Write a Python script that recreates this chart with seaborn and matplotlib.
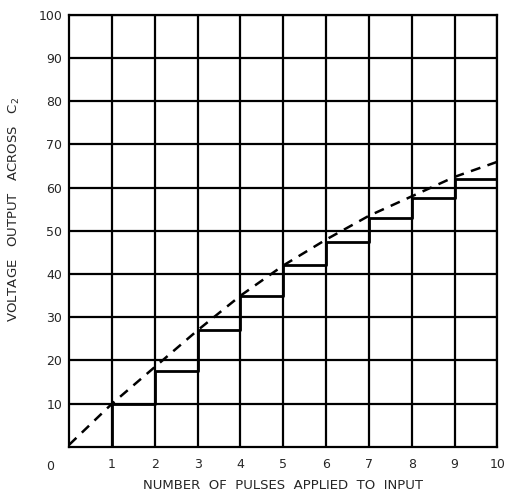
import numpy as np
import pandas as pd
import matplotlib
matplotlib.use('Agg')
import matplotlib.pyplot as plt
import seaborn as sns

# 계단 파형 (펄스마다 C2 전압 상승)
step_pulses = [1, 1, 2, 3, 4, 5, 6, 7, 8, 9, 10]
step_volts = [0, 10, 17.5, 27, 35, 42, 47.5, 53, 57.5, 62, 62]

# 점선 포락선
curve_pulses = [0, 1, 2, 3, 4, 5, 6, 7, 8, 9, 10]
curve_volts = [0.5, 10, 18.5, 27, 35, 42, 48, 53.5, 58, 62.5, 66]

x_ticks = [1, 2, 3, 4, 5, 6, 7, 8, 9, 10]
y_ticks = [10, 20, 30, 40, 50, 60, 70, 80, 90, 100]

sns.set_style('white')
plt.rcParams['font.family'] = ['DejaVu Sans']

fig = plt.figure(figsize=(5.05, 4.96), dpi=100)
ax = fig.add_axes([0.137, 0.099, 0.848, 0.871])

step_df = pd.DataFrame({'pulses': step_pulses, 'volts': step_volts})
curve_df = pd.DataFrame({'pulses': curve_pulses, 'volts': curve_volts})

sns.lineplot(data=step_df, x='pulses', y='volts', ax=ax, estimator=None, sort=False,
             drawstyle='steps-post', color='black', linewidth=2)
sns.lineplot(data=curve_df, x='pulses', y='volts', ax=ax, estimator=None,
             color='black', linewidth=1.8, linestyle=(0, (4, 3)))

ax.set_xlim(0, 10)
ax.set_ylim(0, 100)
ax.set_xticks(x_ticks)
ax.set_yticks(y_ticks)
ax.set_xticklabels([str(v) for v in x_ticks], fontsize=9)
ax.set_yticklabels([str(v) for v in y_ticks], fontsize=9)
ax.tick_params(length=0, pad=5)
ax.tick_params(axis='x', pad=8)
ax.grid(True, color='black', linewidth=1.6)
for s in ax.spines.values():
    s.set_visible(True)
    s.set_color('black')
    s.set_linewidth(1.6)

ax.text(-0.035, -0.03, '0', transform=ax.transAxes, ha='right', va='top', fontsize=9)

ax.set_xlabel('NUMBER  OF  PULSES  APPLIED  TO  INPUT', fontsize=9.5, labelpad=6)
ax.set_ylabel('VOLTAGE   OUTPUT   ACROSS   $\\mathregular{C_2}$', fontsize=9.5, labelpad=8)
ax.yaxis.set_label_coords(-0.11, 0.55)

plt.savefig('out.png', dpi=100)
